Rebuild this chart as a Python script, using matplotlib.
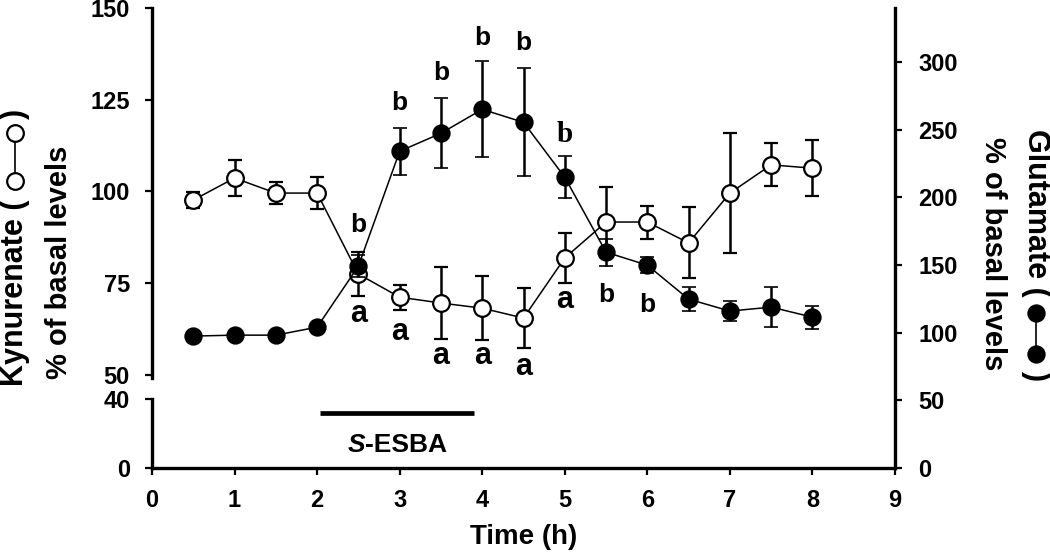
import matplotlib
matplotlib.use("Agg")
import matplotlib.pyplot as plt
from matplotlib.lines import Line2D

plt.rcParams['font.family'] = ['Liberation Sans', 'DejaVu Sans']
plt.rcParams['font.weight'] = 'bold'

# time points (h)
time_h = [0.5, 1.0, 1.5, 2.0, 2.5, 3.0, 3.5, 4.0, 4.5, 5.0, 5.5, 6.0, 6.5, 7.0, 7.5, 8.0]

# kynurenate, % of basal levels (open circles, left axis)
kyn_mean = [97.6, 103.6, 99.5, 99.5, 77.4, 71.1, 69.5, 68.1, 65.4, 81.8, 91.6, 91.6, 85.9, 99.5, 107.2, 106.3]
kyn_sem = [2.2, 4.9, 3.0, 4.3, 6.0, 3.4, 9.9, 8.8, 8.3, 6.8, 9.6, 4.5, 9.7, 16.4, 5.9, 7.7]

# glutamate, % of basal levels (filled circles, right axis)
glu_mean = [97.5, 98.2, 98.2, 104.1, 149.2, 234.1, 247.4, 265.1, 255.5, 214.9, 159.5, 149.9, 124.8, 116.0, 118.9, 111.5]
glu_sem = [2.0, 2.0, 2.0, 2.0, 8.0, 17.5, 26.0, 35.5, 40.0, 15.5, 10.0, 6.0, 9.0, 7.7, 15.0, 8.5]

# significance letters
b_x = [2.5, 3.0, 3.5, 4.0, 4.5, 5.0, 5.5, 6.0]
b_y = [174.3, 264.4, 286.6, 312.4, 308.7, 240.8, 122.6, 115.2]
b_serif = [False, False, False, False, False, True, False, False]
a_x = [2.5, 3.0, 3.5, 4.0, 4.5, 5.0]
a_y = [64.3, 59.4, 52.9, 52.9, 49.9, 68.1]

# S-ESBA application period
drug_on, drug_off = 2.03, 3.9

W, H = 1050, 556
fig = plt.figure(figsize=(W / 100, H / 100), dpi=100)

def fx(px):
    return px / W

def fy(py):
    return 1 - py / H

left, right = 152, 895
ax_r = fig.add_axes([fx(left), fy(468), fx(right) - fx(left), fy(8) - fy(468)])
ax_top = fig.add_axes([fx(left), fy(374.5), fx(right) - fx(left), fy(8) - fy(374.5)])
ax_bot = fig.add_axes([fx(left), fy(468), fx(right) - fx(left), fy(399) - fy(468)])
ax_r.set_zorder(3)
ax_top.set_zorder(2)
ax_bot.set_zorder(1)

spw = 2.4
for ax in (ax_r, ax_top, ax_bot):
    ax.patch.set_visible(False)
    for s in ax.spines.values():
        s.set_visible(False)
        s.set_linewidth(spw)
    ax.set_xlim(0, 9)
    ax.tick_params(width=1.6, length=5, labelsize=17)

# right axis (glutamate)
ax_r.spines['right'].set_visible(True)
ax_r.set_ylim(0, 340)
ax_r.set_yticks(range(0, 301, 50))
ax_r.yaxis.tick_right()
ax_r.tick_params(axis='y', pad=12)
ax_r.set_xticks([])

# left upper axis (kynurenate)
ax_top.spines['left'].set_visible(True)
ax_top.spines['left'].set_bounds(49, 150)
ax_top.set_ylim(50, 150)
ax_top.set_yticks([50, 75, 100, 125, 150])
ax_top.tick_params(axis='y', pad=11)
ax_top.set_xticks([])

# left lower axis + time axis
ax_bot.spines['left'].set_visible(True)
ax_bot.spines['bottom'].set_visible(True)
ax_bot.set_ylim(0, 40)
ax_bot.set_yticks([0, 40])
ax_bot.tick_params(axis='y', pad=11)
ax_bot.set_xticks(range(0, 10))
ax_bot.tick_params(axis='x', pad=10)
ax_bot.set_xlabel('Time (h)', fontsize=20, fontweight='bold', labelpad=9)

# data
ax_top.errorbar(time_h, kyn_mean, yerr=kyn_sem, fmt='-o', color='black', lw=1.1,
                ms=12, mfc='white', mec='black', mew=1.6, ecolor='black',
                elinewidth=1.8, capsize=5, capthick=1.8, clip_on=False, zorder=3)
ax_r.errorbar(time_h, glu_mean, yerr=glu_sem, fmt='-o', color='black', lw=1.1,
              ms=12, mfc='black', mec='black', mew=1.2, ecolor='black',
              elinewidth=1.8, capsize=5, capthick=1.8, clip_on=False, zorder=3)

for x, y, serif in zip(b_x, b_y, b_serif):
    if serif:
        ax_r.text(x, y, 'b', ha='center', va='baseline', fontsize=21,
                  fontweight='bold', family=['Liberation Serif', 'DejaVu Serif'])
    else:
        ax_r.text(x, y, 'b', ha='center', va='baseline', fontsize=19,
                  fontweight='bold')
for x, y in zip(a_x, a_y):
    ax_top.text(x, y, 'a', ha='center', va='baseline', fontsize=22,
                fontweight='bold', clip_on=False)

# S-ESBA bar
ax_bot.plot([drug_on, drug_off], [32, 32], color='black', lw=3.4,
            solid_capstyle='butt', clip_on=False)
ax_bot.text(2.58, 9.3, 'S', ha='right', va='baseline', fontsize=19,
            fontweight='bold', style='italic')
ax_bot.text(2.58, 9.3, '-ESBA', ha='left', va='baseline', fontsize=19,
            fontweight='bold')

# left axis labels
fig.text(fx(15), fy(199), 'Kynurenate (', rotation=90, rotation_mode='anchor',
         ha='right', va='center', fontsize=22, fontweight='bold')
fig.add_artist(Line2D([fx(15), fx(15)], [fy(181), fy(133)], transform=fig.transFigure,
                      color='black', lw=1.2, marker='o', ms=12, mfc='white',
                      mec='black', mew=1.6))
fig.text(fx(15), fy(114), ')', rotation=90, rotation_mode='anchor',
         ha='center', va='center', fontsize=22, fontweight='bold')
fig.text(fx(59), fy(262), '% of basal levels', rotation=90, rotation_mode='anchor',
         ha='center', va='center', fontsize=21, fontweight='bold')

# right axis labels
fig.text(fx(1036), fy(297), 'Glutamate (', rotation=-90, rotation_mode='anchor',
         ha='right', va='center', fontsize=22, fontweight='bold')
fig.add_artist(Line2D([fx(1036), fx(1036)], [fy(313), fy(354)], transform=fig.transFigure,
                      color='black', lw=1.2, marker='o', ms=12, mfc='black',
                      mec='black', mew=1.2))
fig.text(fx(1036), fy(376), ')', rotation=-90, rotation_mode='anchor',
         ha='center', va='center', fontsize=22, fontweight='bold')
fig.text(fx(993), fy(254), '% of basal levels', rotation=-90, rotation_mode='anchor',
         ha='center', va='center', fontsize=21, fontweight='bold')

fig.savefig('out.png', dpi=100)
